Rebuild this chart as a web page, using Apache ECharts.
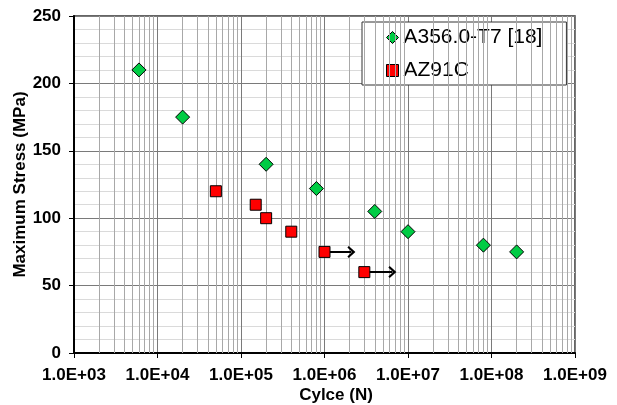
<!DOCTYPE html>
<html><head><meta charset="utf-8">
<script src="https://cdn.jsdelivr.net/npm/echarts@6/dist/echarts.min.js"></script>
<style>html,body{margin:0;padding:0;background:#fff}#c{width:617px;height:405px}</style>
</head><body><div id="c"></div>
<script>
// A356.0-T7 [18]
var a356Cycles = [6e3, 2e4, 2e5, 8e5, 4e6, 1e7, 8e7, 2e8];
var a356Stress = [210, 175, 140, 122, 105, 90, 80, 75];
// AZ91C
var az91Cycles = [5e4, 1.5e5, 2e5, 4e5, 1e6, 3e6];
var az91Stress = [120, 110, 100, 90, 75, 60];
// run-out arrows (start cycles, end cycles, stress)
var runoutStart = [1e6, 3e6];
var runoutEnd = [2.1e6, 6.5e6];
var runoutStress = [75, 60];
var seriesNames = ['A356.0-T7 [18]', 'AZ91C'];

function zip(xs, ys) { return xs.map(function (x, i) { return [x, ys[i]]; }); }

var minorX = [];
for (var e = 3; e < 9; e++) {
  for (var m = 2; m <= 9; m++) minorX.push({ xAxis: m * Math.pow(10, e) });
}
var arrows = runoutStart.map(function (s, i) {
  return [{ coord: [s, runoutStress[i]] }, { coord: [runoutEnd[i], runoutStress[i]] }];
});

var chart = echarts.init(document.getElementById('c'), null, { renderer: 'canvas' });
var boldFont = { fontFamily: 'Liberation Sans, Arial, sans-serif', fontWeight: 'bold', fontSize: 17, color: '#000' };
chart.setOption({
  animation: false,
  backgroundColor: '#fff',
  grid: { left: 74, right: 42, top: 16, bottom: 52, outerBoundsMode: 'none', containLabel: false,
    show: true, borderColor: '#333', borderWidth: 1.5, backgroundColor: 'transparent' },
  legend: {
    data: [{ name: seriesNames[0], icon: 'diamond' }, { name: seriesNames[1], icon: 'rect' }],
    orient: 'vertical',
    left: 362, top: 22,
    backgroundColor: '#fff',
    borderColor: '#333', borderWidth: 1,
    padding: [5, 24, 4, 24],
    itemGap: 12,
    itemWidth: 12, itemHeight: 12,
    itemStyle: { borderColor: '#000', borderWidth: 1 },
    textStyle: { fontFamily: 'Liberation Sans, Arial, sans-serif', fontSize: 21, color: '#000' }
  },
  xAxis: {
    type: 'log', logBase: 10, min: 1e3, max: 1e9, splitNumber: 6,
    name: 'Cylce (N)', nameLocation: 'middle', nameGap: 34, nameMoveOverlap: false,
    nameTextStyle: Object.assign({}, boldFont, { padding: [0, 0, 0, 23] }),
    axisLine: { show: true, onZero: false, lineStyle: { color: '#000', width: 2 } },
    axisTick: { show: true, length: 5, lineStyle: { color: '#000' } },
    axisLabel: Object.assign({}, boldFont, { margin: 14, formatter: function (v) {
      var ex = Math.round(Math.log10(v));
      return '1.0E+' + (ex < 10 ? '0' : '') + ex;
    } }),
    splitLine: { show: true, lineStyle: { color: '#7a7a7a', width: 1 } }
  },
  yAxis: {
    type: 'value', min: 0, max: 250, interval: 50,
    name: 'Maximum Stress (MPa)', nameLocation: 'middle', nameGap: 45, nameRotate: 90, nameMoveOverlap: false,
    nameTextStyle: boldFont,
    axisLine: { show: true, lineStyle: { color: '#000', width: 2 } },
    axisTick: { show: true, length: 5, lineStyle: { color: '#000' } },
    axisLabel: Object.assign({}, boldFont, { margin: 13 }),
    splitLine: { show: true, lineStyle: { color: '#7a7a7a', width: 1 } },
    minorTick: { show: false, splitNumber: 5 },
    minorSplitLine: { show: true, lineStyle: { color: '#dadada', width: 1 } }
  },
  series: [
    {
      type: 'scatter', name: '_grid', data: [], z: 1, silent: true,
      markLine: { silent: true, symbol: 'none', label: { show: false },
        lineStyle: { color: '#a8a8a8', width: 1, type: 'solid' }, data: minorX }
    },
    {
      type: 'scatter', name: '_arrows', data: [], z: 2, silent: true,
      markLine: { silent: true, symbol: ['none', 'path://M0,10 L10,0 L20,10 L17.5,12 L10,5 L2.5,12 Z'], symbolSize: [12, 8],
        label: { show: false }, lineStyle: { color: '#000', width: 2, type: 'solid' }, data: arrows }
    },
    {
      type: 'scatter', name: seriesNames[0], data: zip(a356Cycles, a356Stress), z: 5,
      symbol: 'diamond', symbolSize: 14,
      itemStyle: { color: '#00cc44', borderColor: '#000', borderWidth: 1, opacity: 1 }
    },
    {
      type: 'scatter', name: seriesNames[1], data: zip(az91Cycles, az91Stress), z: 5,
      symbol: 'rect', symbolSize: 11,
      itemStyle: { color: '#ff0000', borderColor: '#000', borderWidth: 1, opacity: 1 }
    }
  ]
});
</script></body></html>
